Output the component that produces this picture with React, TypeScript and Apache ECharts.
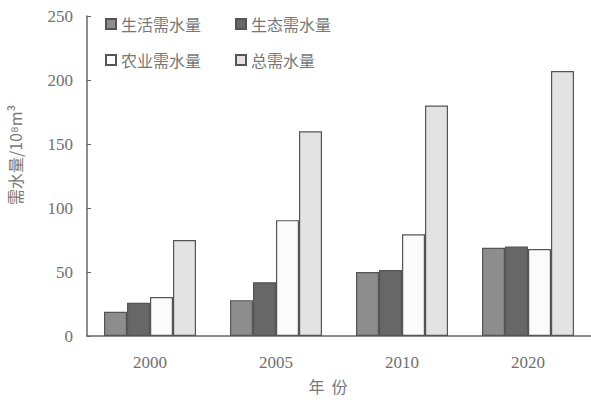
import React, { useEffect, useRef } from "react";
import * as echarts from "echarts";

const categories = ["2000", "2005", "2010", "2020"];
const domestic = [19, 28, 50, 69];
const ecological = [26, 42, 51.5, 70];
const agricultural = [30.5, 90.5, 79.5, 68];
const total = [75, 160, 180, 207];
const yTicks = [0, 50, 100, 150, 200, 250];

const seriesNames = ["生活需水量", "生态需水量", "农业需水量", "总需水量"];
const fills = ["#8d8d8d", "#676767", "#fbfbfb", "#e3e3e3"];

export default function App() {
  const ref = useRef<HTMLDivElement>(null);
  useEffect(() => {
    if (!ref.current) return;
    const chart = echarts.init(ref.current, undefined, { renderer: "svg" });
    const textColor = "#707070";
    const serif = "'Liberation Serif', 'Noto Sans CJK SC', serif";
    const cjk = "'Noto Sans CJK SC', sans-serif";
    const datas = [domestic, ecological, agricultural, total];
    const legendCommon = {
      orient: "horizontal" as const,
      itemWidth: 10,
      itemHeight: 10,
      itemGap: 34,
      icon: "rect",
      textStyle: { fontFamily: cjk, fontSize: 16, color: "#777" },
    };
    chart.setOption({
      animation: false,
      backgroundColor: "#ffffff",
      grid: { left: 87, right: 0, top: 16, bottom: 66 },
      legend: [
        { ...legendCommon, left: 100, top: 11, data: [seriesNames[0], seriesNames[1]] },
        { ...legendCommon, left: 100, top: 47, data: [seriesNames[2], seriesNames[3]] },
      ],
      xAxis: {
        type: "category",
        data: categories,
        axisLine: { lineStyle: { color: "#666", width: 1.5 } },
        axisTick: { inside: true, length: 4, lineStyle: { color: "#666" } },
        axisLabel: { color: textColor, fontFamily: serif, fontSize: 17, margin: 18 },
      },
      yAxis: {
        type: "value",
        min: 0,
        max: 250,
        interval: 50,
        axisLine: { show: true, lineStyle: { color: "#666", width: 1.5 } },
        axisTick: { show: true, inside: true, length: 4, lineStyle: { color: "#666" } },
        splitLine: { show: false },
        axisLabel: {
          color: textColor,
          fontFamily: serif,
          fontSize: 17,
          margin: 14,
          formatter: (v: number) => (yTicks.includes(v) ? String(v) : ""),
        },
      },
      graphic: [
        {
          type: "text",
          x: 15,
          y: 155,
          rotation: Math.PI / 2,
          style: {
            text: "需水量/10⁸m³",
            fontFamily: cjk,
            fontSize: 16,
            fill: "#777",
            align: "center",
            verticalAlign: "middle",
          },
        },
        {
          type: "text",
          x: 328,
          y: 386,
          style: {
            text: "年  份",
            fontFamily: cjk,
            fontSize: 16,
            fill: "#777",
            align: "center",
            verticalAlign: "middle",
          },
        },
      ],
      series: seriesNames.map((name, i) => ({
        name,
        type: "bar",
        data: datas[i],
        barGap: "0%",
        barCategoryGap: "27%",
        itemStyle: { color: fills[i], borderColor: "#555", borderWidth: 1.2 },
      })),
    });
    return () => chart.dispose();
  }, []);
  return (
    <div
      ref={ref}
      style={{ position: "fixed", left: 0, top: 0, width: 591, height: 402 }}
    />
  );
}
